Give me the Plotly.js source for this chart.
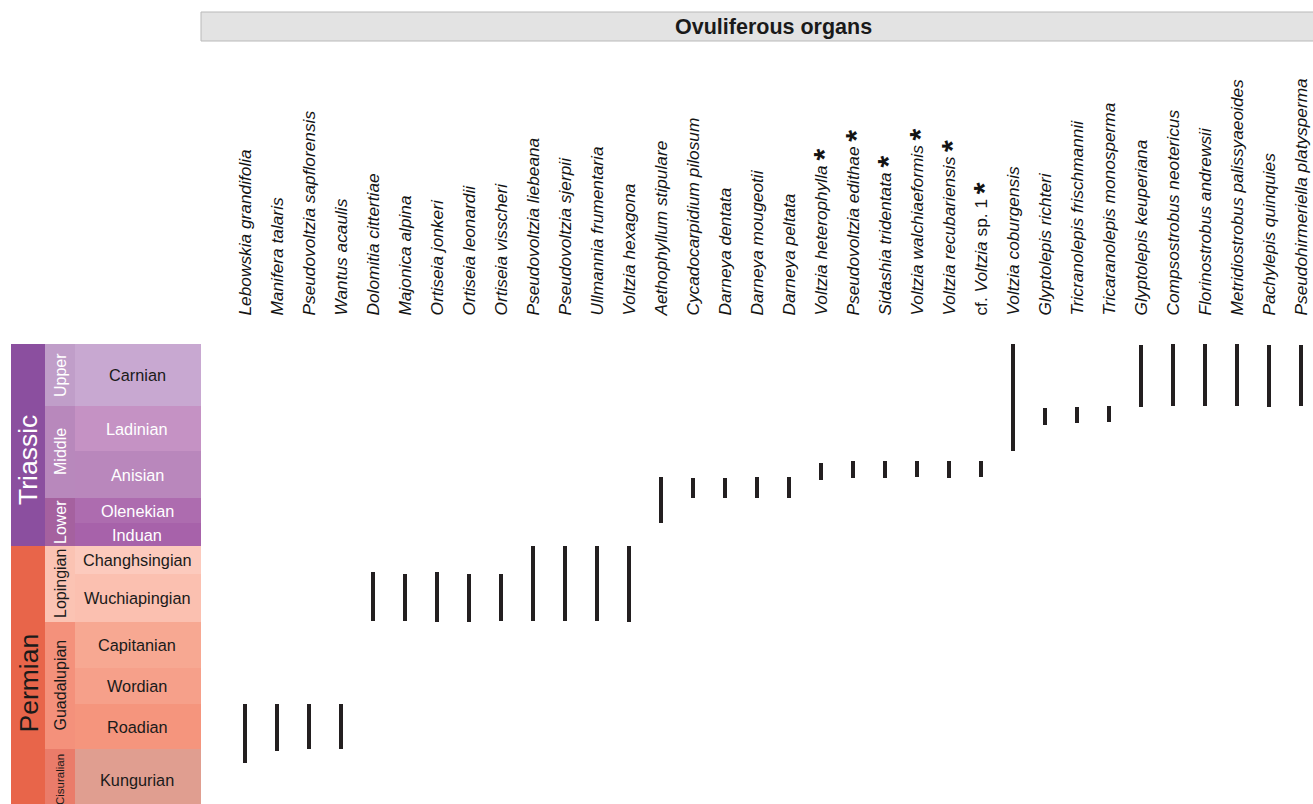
<!DOCTYPE html>
<html><head><meta charset="utf-8">
<script src="https://cdn.plot.ly/plotly-3.0.1.min.js"></script>
<style>html,body{margin:0;padding:0;background:#fff}#chart{width:1313px;height:804px}</style>
</head><body><div id="chart"></div>
<script>
// ---- taxa (ovuliferous organs) ----
const taxa = [
  'Lebowskia grandifolia','Manifera talaris','Pseudovoltzia sapflorensis','Wantus acaulis',
  'Dolomitia cittertiae','Majonica alpina','Ortiseia jonkeri','Ortiseia leonardii','Ortiseia visscheri',
  'Pseudovoltzia liebeana','Pseudovoltzia sjerpii','Ullmannia frumentaria','Voltzia hexagona',
  'Aethophyllum stipulare','Cycadocarpidium pilosum','Darneya dentata','Darneya mougeotii','Darneya peltata',
  'Voltzia heterophylla','Pseudovoltzia edithae','Sidashia tridentata','Voltzia walchiaeformis','Voltzia recubariensis',
  'cf. Voltzia sp. 1','Voltzia coburgensis','Glyptolepis richteri','Tricranolepis frischmannii','Tricaranolepis monosperma',
  'Glyptolepis keuperiana','Compsostrobus neotericus','Florinostrobus andrewsii','Metridiostrobus palissyaeoides',
  'Pachylepis quinquies','Pseudohirmeriella platysperma'
];
const starred = ['Voltzia heterophylla','Pseudovoltzia edithae','Sidashia tridentata','Voltzia walchiaeformis','Voltzia recubariensis','cf. Voltzia sp. 1'];
// stratigraphic range of each taxon (column-height units, 0 = top of Carnian)
const rangeTop  = [360,360,360,360, 228,230,228,230,230, 202,202,202,202, 133,134,134,133,133, 119,117,117,117,117,117, 0, 64,63,62, 1,0,0,0,1,1];
const rangeBase = [419,407,405,405, 277,277,278,278,277, 277,277,277,278, 179,154,154,154,154, 136,134,134,133,134,133, 107, 81,79,78, 63,62,62,62,63,62];

// ---- stratigraphic column ----
const stageNames = ['Carnian','Ladinian','Anisian','Olenekian','Induan','Changhsingian','Wuchiapingian','Capitanian','Wordian','Roadian','Kungurian'];
const stageTop   = [0,62,107,154,179,202,230,278,324,360,405];
const stageBase  = [62,107,154,179,202,230,278,324,360,405,467];
const epochNames = ['Upper','Middle','Lower','Lopingian','Guadalupian','Cisuralian'];
const epochTop   = [0,62,154,202,278,405];
const epochBase  = [62,154,202,278,405,467];
const periodNames = ['Triassic','Permian'];
const periodTop   = [0,202];
const periodBase  = [202,467];

// styles
const stageFill = ['#c8a8d1','#c592c4','#b987bc','#ad6caf','#a762aa','#fccabd','#fbc0b0','#f7a892','#f6a08a','#f5957d','#e09e90'];
const stageText = ['#1a1a1a','#ffffff','#ffffff','#ffffff','#ffffff','#1a1a1a','#1a1a1a','#1a1a1a','#1a1a1a','#1a1a1a','#1a1a1a'];
const epochFill = ['#c09ec9','#b888bc','#a5619f','#fbc3b3','#f4917b','#ea7c6a'];
const epochText = ['#ffffff','#ffffff','#ffffff','#1a1a1a','#1a1a1a','#1a1a1a'];
const epochSize = [16,16,16,16,16,11.5];
const periodFill = ['#8b4f9f','#e8654a'];
const periodText = ['#ffffff','#1a1a1a'];
const periodShift = [-15,-5];

const W = 1313, H = 804;
const px = v => v / W;
const FONT = '"Liberation Sans", Arial, sans-serif';

function labelHTML(name) {
  let base = name.startsWith('cf. ') ? 'cf. <i>' + name.slice(4).replace(' sp. 1', '') + '</i> sp. 1' : '<i>' + name + '</i>';
  if (starred.includes(name)) base += ' <span style="font-size:30px;font-weight:bold;baseline-shift:-7px">*</span>';
  return base;
}

const bars = {
  type: 'bar',
  x: taxa,
  base: rangeTop,
  y: rangeBase.map((b, i) => b - rangeTop[i]),
  width: 0.135,
  marker: {color: '#231f20', line: {width: 0}},
  hoverinfo: 'x',
  showlegend: false
};

const shapes = [];
const annotations = [];
function column(names, tops, bases, fills, x0, x1) {
  names.forEach((n, i) => {
    shapes.push({type: 'rect', xref: 'paper', yref: 'y', x0: px(x0), x1: px(x1), y0: tops[i], y1: bases[i],
      fillcolor: fills[i], line: {width: 0}, layer: 'below'});
  });
}
column(periodNames, periodTop, periodBase, periodFill, 11, 45);
column(epochNames, epochTop, epochBase, epochFill, 45, 75);
column(stageNames, stageTop, stageBase, stageFill, 75, 201);

periodNames.forEach((n, i) => annotations.push({xref: 'paper', yref: 'y', x: px(28), y: (periodTop[i] + periodBase[i]) / 2,
  yshift: periodShift[i],
  text: n, textangle: -90, showarrow: false, xanchor: 'center', yanchor: 'middle',
  font: {family: FONT, size: 26.5, color: periodText[i]}}));
epochNames.forEach((n, i) => annotations.push({xref: 'paper', yref: 'y', x: px(60), y: (epochTop[i] + epochBase[i]) / 2,
  text: n, textangle: -90, showarrow: false, xanchor: 'center', yanchor: 'middle',
  font: {family: FONT, size: epochSize[i], color: epochText[i]}}));
stageNames.forEach((n, i) => annotations.push({xref: 'paper', yref: 'y', x: px(137), y: (stageTop[i] + stageBase[i]) / 2,
  text: n, showarrow: false, xanchor: 'center', yanchor: 'middle',
  font: {family: FONT, size: 16.3, color: stageText[i]}}));

// header band
shapes.push({type: 'rect', xref: 'paper', yref: 'paper', x0: px(201), x1: 1.03, y0: 1 - 41 / H, y1: 1 - 12 / H,
  fillcolor: '#e3e3e3', line: {color: '#b9b9b9', width: 1}});
annotations.push({xref: 'paper', yref: 'paper', x: px(774), y: 1 - 27 / H, text: '<b>Ovuliferous organs</b>',
  showarrow: false, xanchor: 'center', yanchor: 'middle', font: {family: FONT, size: 21.5, color: '#1a1a1a'}});

const layout = {
  width: W, height: H,
  margin: {l: 0, r: 0, t: 0, b: 0},
  paper_bgcolor: '#ffffff', plot_bgcolor: 'rgba(0,0,0,0)',
  showlegend: false,
  bargap: 0,
  xaxis: {
    type: 'category', side: 'top', domain: [px(229), 1], range: [-0.5, 33.375],
    tickvals: taxa, ticktext: taxa.map(labelHTML), tickangle: -90,
    ticks: 'outside', ticklen: 24, tickcolor: 'rgba(0,0,0,0)',
    tickfont: {family: FONT, size: 17.3, color: '#141414'},
    showgrid: false, zeroline: false, showline: false, automargin: false, fixedrange: true
  },
  yaxis: {
    domain: [0, 460 / H], range: [460, 0], visible: false, showgrid: false, zeroline: false, fixedrange: true
  },
  shapes: shapes,
  annotations: annotations
};

Plotly.newPlot('chart', [bars], layout, {displayModeBar: false, staticPlot: true});
</script>
</body></html>
